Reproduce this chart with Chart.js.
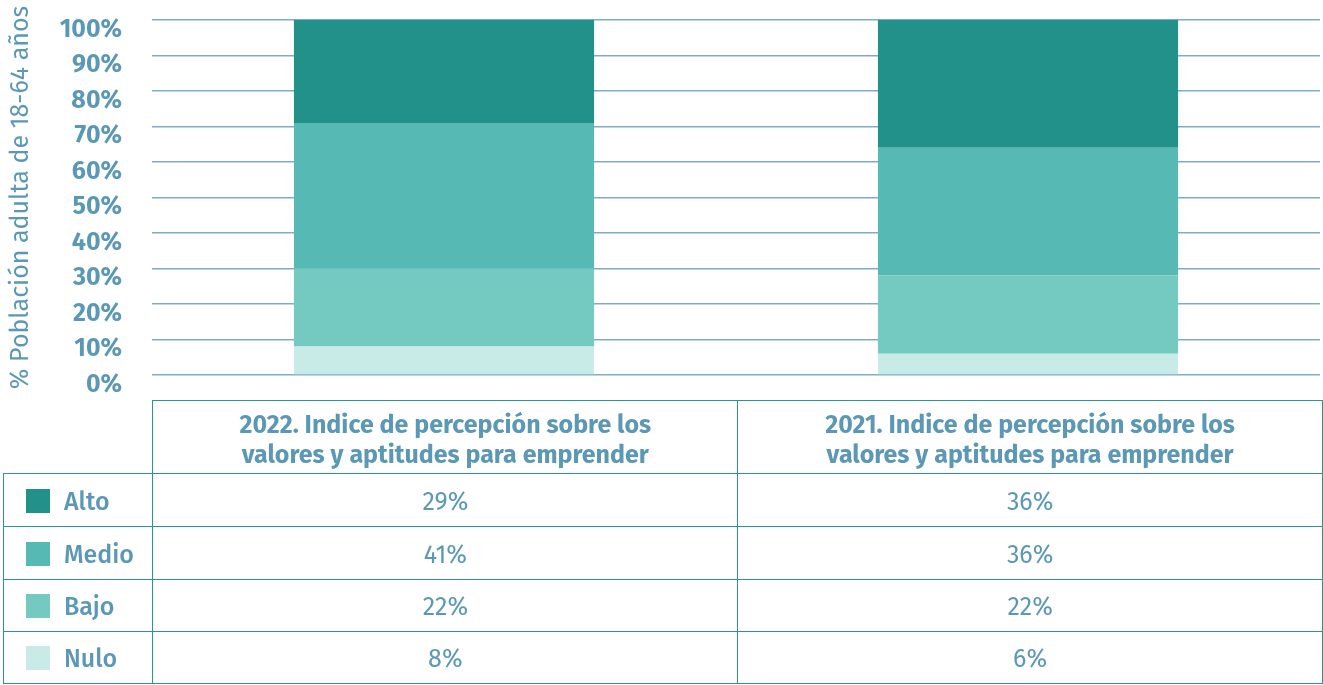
<!DOCTYPE html>
<html>
<head>
<meta charset="utf-8">
<script src="https://cdn.jsdelivr.net/npm/chart.js@4"></script>
<style>
  body { margin: 0; background: #fff; font-family: "Fira Sans", Roboto, sans-serif; }
  #wrap { position: relative; width: 1323px; height: 685px; overflow: hidden; }
  #chartBox { position: absolute; left: 0; top: -25px; width: 1323px; height: 445px; }
  #dataTable { position: absolute; left: 3px; top: 400px; border-collapse: collapse; color: #5b98b5; table-layout: fixed; }
  #dataTable td, #dataTable th { border: 1.5px solid #2b9690; padding: 0; text-align: center; }
  #dataTable th { font-size: 25px; font-weight: 700; line-height: 30px; padding-top: 5px; }
  #dataTable td { font-size: 25px; padding-top: 3px; }
  #dataTable th.blank { border: none; border-right: 1.5px solid #2b9690; border-bottom: 1.5px solid #2b9690; }
  #dataTable td.lbl { text-align: left; font-weight: 500; }
  .sw { display: inline-block; width: 24px; height: 24px; margin: -4px 14px 0 22px; vertical-align: middle; }
</style>
</head>
<body>
<div id="wrap">
  <div id="chartBox"><canvas id="chartCanvas"></canvas></div>
  <table id="dataTable"></table>
</div>
<script>
const categories = ["2022. Indice de percepción sobre los valores y aptitudes para emprender",
                    "2021. Indice de percepción sobre los valores y aptitudes para emprender"];
const headerLines = [["2022. Indice de percepción sobre los", "valores y aptitudes para emprender"],
                     ["2021. Indice de percepción sobre los", "valores y aptitudes para emprender"]];
const seriesNames = ["Nulo", "Bajo", "Medio", "Alto"];
const nulo = [8, 6];
const bajo = [22, 22];
const medio = [41, 36];
const alto = [29, 36];
const colors = ["#c8ebe8", "#74c9c1", "#56b9b4", "#22918a"];
const yTicks = [0, 10, 20, 30, 40, 50, 60, 70, 80, 90, 100];

const series = [nulo, bajo, medio, alto];
const textColor = "#5b98b5";

document.addEventListener("DOMContentLoaded", () => {
    const ctx = document.getElementById("chartCanvas").getContext("2d");

    new Chart(ctx, {
        type: 'bar',
        data: {
            labels: categories,
            datasets: series.map((vals, i) => ({
                label: seriesNames[i],
                data: vals,
                backgroundColor: colors[i],
                borderWidth: 0,
                barPercentage: 1,
                categoryPercentage: 0.514
            }))
        },
        options: {
            responsive: true,
            maintainAspectRatio: false,
            animation: false,
            layout: { padding: { left: 0, right: 3, top: 18, bottom: 25 } },
            plugins: { legend: { display: false }, tooltip: { enabled: false } },
            scales: {
                x: {
                    stacked: true,
                    ticks: { display: false },
                    grid: { display: false },
                    border: { display: false }
                },
                y: {
                    stacked: true,
                    min: 0,
                    max: 100,
                    afterBuildTicks: s => { s.ticks = yTicks.map(v => ({ value: v })); },
                    afterFit: s => { s.width = 152; },
                    ticks: {
                        color: textColor,
                        font: { family: "'Fira Sans', Roboto, sans-serif", size: 25, weight: 'bold' },
                        padding: 30,
                        labelOffset: 10,
                        callback: v => v + "%"
                    },
                    grid: { color: "#7eabc6", lineWidth: 1.5, drawTicks: false },
                    border: { display: false },
                    title: {
                        display: true,
                        text: "% Población adulta de 18-64 años",
                        color: textColor,
                        font: { family: "'Fira Sans', Roboto, sans-serif", size: 25 },
                        padding: { top: 6, bottom: 0 }
                    }
                }
            }
        }
    });

    // data table under the chart
    const table = document.getElementById("dataTable");
    let html = '<tr style="height:73px"><th class="blank" style="width:149px"></th>';
    headerLines.forEach(lines => {
        html += '<th style="width:584px">' + lines.join('<br>') + '</th>';
    });
    html += '</tr>';
    const rowHeights = [53, 53, 52, 52];
    for (let r = series.length - 1; r >= 0; r--) {
        html += '<tr style="height:' + rowHeights[series.length - 1 - r] + 'px">';
        html += '<td class="lbl"><span class="sw" style="background:' + colors[r] + '"></span>' + seriesNames[r] + '</td>';
        series[r].forEach(v => { html += '<td>' + v + '%</td>'; });
        html += '</tr>';
    }
    table.innerHTML = html;
});
</script>
</body>
</html>
